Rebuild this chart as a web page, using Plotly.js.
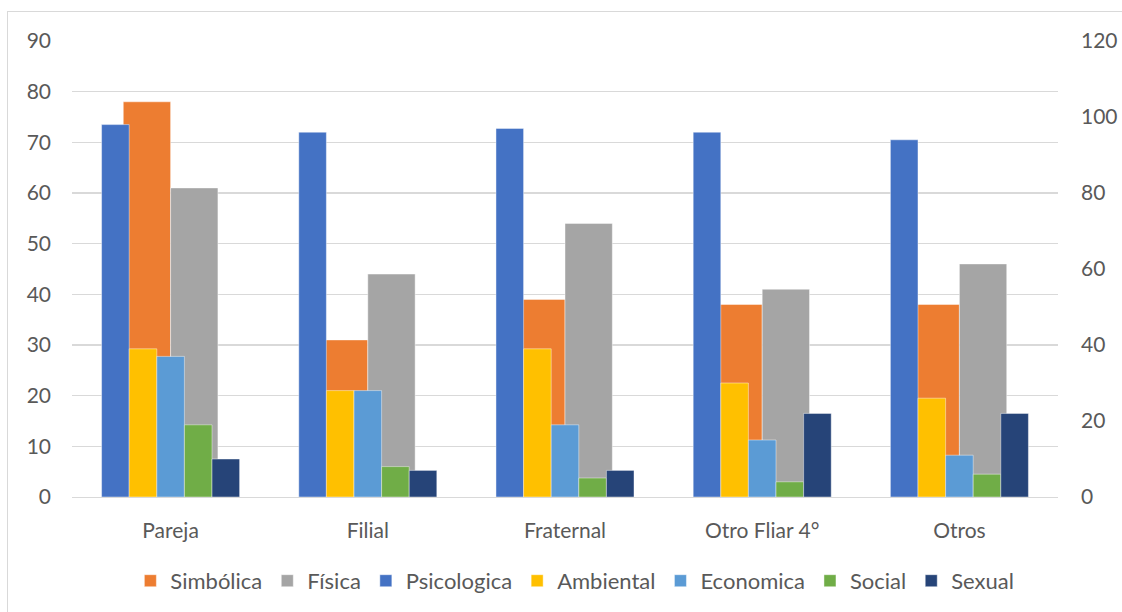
<!DOCTYPE html>
<html>
<head>
<meta charset="utf-8">
<script src="https://cdn.plot.ly/plotly-3.0.1.min.js"></script>
<style>
  html, body { margin:0; padding:0; background:#fff; overflow:hidden; }
  #chart { position:absolute; left:0; top:0; width:1122px; height:612px; }
  #frame { position:absolute; left:7px; top:11px; width:1300px; height:800px; border:1px solid #d9d9d9; pointer-events:none; }
</style>
</head>
<body>
<div id="chart"></div>
<div id="frame"></div>
<script>
const categories = ['Pareja', 'Filial', 'Fraternal', 'Otro Fliar 4°', 'Otros'];
// Primary (left) axis series
const simbolica = [78, 31, 39, 38, 38];
const fisica = [61, 44, 54, 41, 46];
// Secondary (right) axis series
const psicologica = [98, 96, 97, 96, 94];
const ambiental = [39, 28, 39, 30, 26];
const economica = [37, 28, 19, 15, 11];
const social = [19, 8, 5, 4, 6];
const sexual = [10, 7, 7, 22, 22];

const leftTicks = [0, 10, 20, 30, 40, 50, 60, 70, 80, 90];
const rightTicks = [0, 20, 40, 60, 80, 100, 120];

const outline = { color: 'rgba(255,255,255,0.55)', width: 0.8 };

function wide(name, vals, color, off) {
  return { type: 'bar', name: name, x: categories, y: vals, yaxis: 'y',
    width: 0.24, offset: off, marker: { color: color, line: outline }, hoverinfo: 'x+y+name' };
}
function narrow(name, vals, color, off) {
  return { type: 'bar', name: name, x: categories, y: vals, yaxis: 'y2',
    width: 0.14, offset: off, marker: { color: color, line: outline }, hoverinfo: 'x+y+name' };
}

const data = [
  wide('Simbólica', simbolica, '#ED7D31', -0.24),
  wide('Física', fisica, '#A5A5A5', 0),
  narrow('Psicologica', psicologica, '#4472C4', -0.35),
  narrow('Ambiental', ambiental, '#FFC000', -0.21),
  narrow('Economica', economica, '#5B9BD5', -0.07),
  narrow('Social', social, '#70AD47', 0.07),
  narrow('Sexual', sexual, '#264478', 0.21)
];

const fam = 'Lato, "Liberation Sans", sans-serif';
const tickFont = { family: fam, size: 21, color: '#595959' };
const legFont = { family: fam, size: 22, color: '#595959' };

const layout = {
  width: 1122, height: 612,
  margin: { l: 72, r: 64, t: 41, b: 115, autoexpand: false },
  paper_bgcolor: 'rgba(0,0,0,0)', plot_bgcolor: 'rgba(0,0,0,0)',
  font: tickFont,
  barmode: 'overlay',
  showlegend: true,
  legend: { orientation: 'h', x: 0.51, xanchor: 'center', y: -0.184, yanchor: 'middle',
    font: legFont, traceorder: 'normal', itemwidth: 30 },
  xaxis: { type: 'category', range: [-0.5, 4.5], showline: true, linecolor: '#d9d9d9', linewidth: 1.3,
    showgrid: false, ticks: '', tickfont: tickFont, ticklabelstandoff: 14, zeroline: false },
  yaxis: { range: [0, 90], tickvals: leftTicks, showgrid: true, gridcolor: '#d9d9d9', gridwidth: 1.3,
    zeroline: false, showline: false, ticks: '', tickfont: tickFont, ticklabelstandoff: 20 },
  yaxis2: { range: [0, 120], tickvals: rightTicks, overlaying: 'y', side: 'right', showgrid: false,
    zeroline: false, showline: false, ticks: '', tickfont: tickFont, ticklabelstandoff: 22 }
};

Plotly.newPlot('chart', data, layout, { displayModeBar: false, staticPlot: true });
</script>
</body>
</html>
